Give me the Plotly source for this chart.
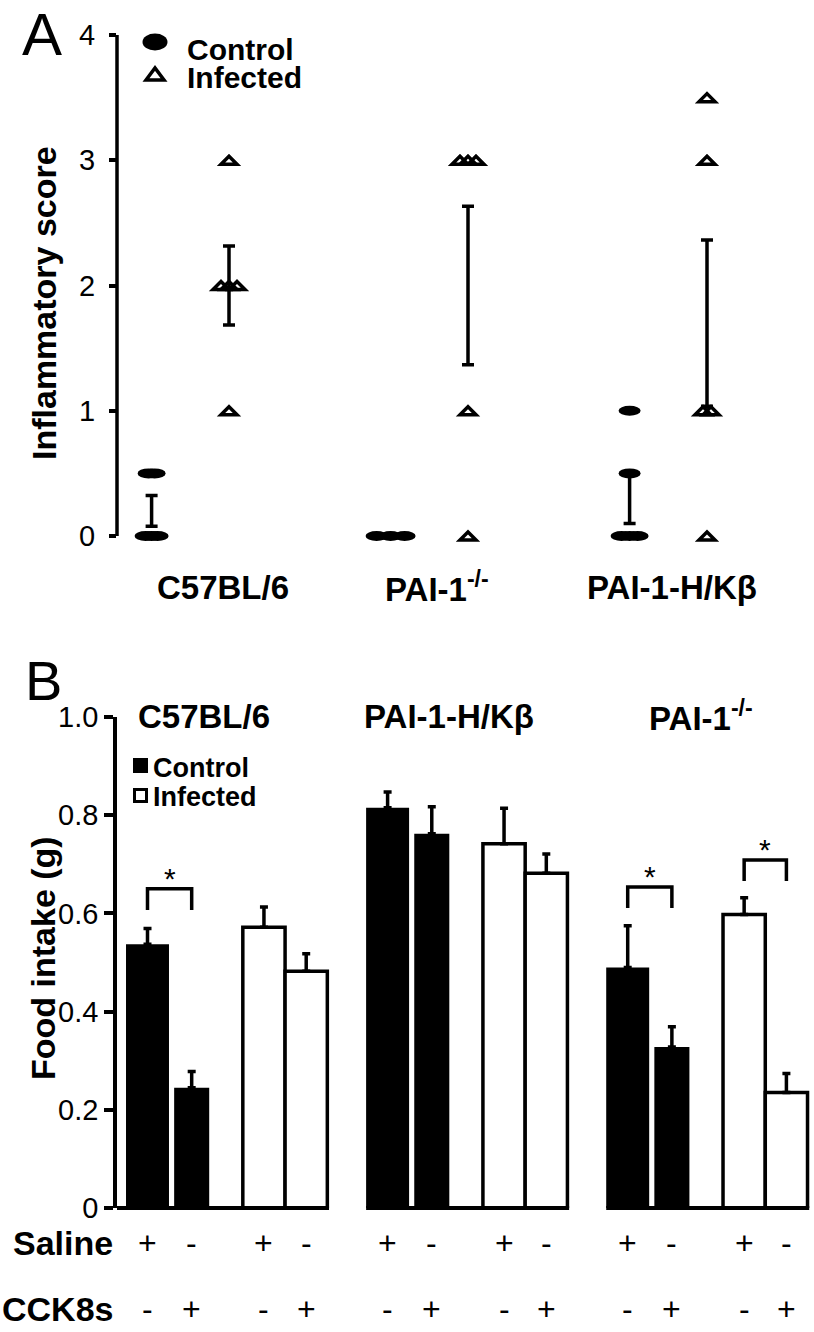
import numpy as np
import plotly.graph_objects as go

W, H = 814, 1332
FONT = "Liberation Sans, Arial, sans-serif"

# ---------------- Panel A data ----------------
strains_A = ["C57BL/6", "PAI-1<sup>-/-</sup>", "PAI-1-H/Kβ"]
control_scores = [[0, 0, 0, 0.5, 0.5], [0, 0, 0], [1, 0.5, 0, 0, 0]]
infected_scores = [[3, 2, 2, 2, 1], [3, 3, 3, 1, 0], [3.5, 3, 1, 1, 0]]
score_ticks = [0, 1, 2, 3, 4]
legend_labels = ["Control", "Infected"]

# ---------------- Panel B data ----------------
strains_B = ["C57BL/6", "PAI-1-H/Kβ", "PAI-1<sup>-/-</sup>"]
treatment = ["Control", "Control", "Infected", "Infected"]
saline = ["+", "-", "+", "-"]
cck8s = ["-", "+", "-", "+"]
intake_mean = [[0.537, 0.245, 0.572, 0.482],
               [0.815, 0.762, 0.742, 0.682],
               [0.490, 0.328, 0.598, 0.235]]
intake_sem = [[0.032, 0.033, 0.041, 0.036],
              [0.032, 0.055, 0.072, 0.039],
              [0.085, 0.041, 0.034, 0.039]]
intake_ticks = [0, 0.2, 0.4, 0.6, 0.8, 1.0]
intake_ticktext = ["0", "0.2", "0.4", "0.6", "0.8", "1.0"]
# (strain index, bar a, bar b, bracket height)
significance = [(0, 0, 1, 0.650), (2, 0, 1, 0.654), (2, 2, 3, 0.709)]


# ---------------- layout helpers ----------------
def fx(p):
    return p / W


def fy(p):
    return 1 - p / H


# Panel A geometry (pixels)
A_Y0, A_Y4 = 536, 35
A_UNIT = (A_Y0 - A_Y4) / 4.0
A_YMIN = -0.25
A_BOTTOM = A_Y0 - A_YMIN * A_UNIT
A_LEFT = 117
A_G0, A_GSTEP = 190.3, 239.0
A_PAIR = 38.7 / A_GSTEP
A_XRANGE = [(A_LEFT - A_G0) / A_GSTEP, (W - A_G0) / A_GSTEP]
ELL_STEP = [6, 14, 8]
TRI_STEP = 8
A_LABEL_SHIFT = [33, 8, 4]

# Panel B geometry (pixels)
B_Y0, B_Y1 = 1208, 717
B_LEFT = 117
B_G0, B_GSTEP = 147.5, 240.1
B_XRANGE = [(B_LEFT - B_G0) / B_GSTEP, (W - B_G0) / B_GSTEP]
BAR_OFF = [0.0, 0.184, 0.485, 0.661]
BAR_W = [0.179, 0.146, 0.176, 0.176]
BAR_COLOR = ["black", "black", "white", "white"]
BAR_LW = [0, 0, 3.5, 3.5]
B_TITLE_SHIFT = [-23, -18, -6]
LEG_LEN = 0.043


def spread(vals, step):
    totals = {v: vals.count(v) for v in vals}
    seen = {}
    offs = []
    for v in vals:
        k = seen.get(v, 0)
        seen[v] = k + 1
        offs.append((k - (totals[v] - 1) / 2.0) * step)
    return offs


def note(text, x, y, xref="paper", yref="paper", size=30, xanchor="center", yanchor="middle", **kw):
    d = dict(x=x, y=y, xref=xref, yref=yref, text=text, showarrow=False,
             xanchor=xanchor, yanchor=yanchor,
             font=dict(family=FONT, size=size, color="black"))
    d.update(kw)
    return d


fig = go.Figure()
shapes = []
annotations = []

# ---------------- Panel A ----------------
ex, ey, es = [], [], []
for g in range(3):
    xc = g - A_PAIR
    xi = g + A_PAIR
    for v, off in zip(control_scores[g], spread(control_scores[g], ELL_STEP[g])):
        shapes.append(dict(type="circle", xref="x", yref="y", xsizemode="pixel", ysizemode="pixel",
                           xanchor=xc, yanchor=v, x0=off - 11, x1=off + 11, y0=-5, y1=5,
                           fillcolor="black", line=dict(width=0)))
    for v, off in zip(infected_scores[g], spread(infected_scores[g], TRI_STEP)):
        shapes.append(dict(type="path", xref="x", yref="y", xsizemode="pixel", ysizemode="pixel",
                           xanchor=xi, yanchor=v,
                           path=f"M{off-8},-4 L{off},4 L{off+8},-4 Z",
                           fillcolor="rgba(0,0,0,0)", line=dict(color="black", width=3.5)))
    for vals, xx in ((control_scores[g], xc), (infected_scores[g], xi)):
        arr = np.array(vals, dtype=float)
        ex.append(xx)
        ey.append(arr.mean())
        es.append(arr.std(ddof=1) / np.sqrt(len(arr)))

fig.add_trace(go.Scatter(x=ex, y=ey, mode="markers", marker=dict(size=2, opacity=0),
                         error_y=dict(type="data", array=es, color="black", thickness=3.5, width=6),
                         showlegend=False, hoverinfo="skip", xaxis="x", yaxis="y"))

# y axis line of panel A (0 to 4)
shapes.append(dict(type="line", xref="x domain", yref="y", x0=0, x1=0,
                   y0=score_ticks[0], y1=score_ticks[-1], line=dict(color="black", width=3.5)))

for g, name in enumerate(strains_A):
    annotations.append(note(f"<b>{name}</b>", g, fy(587), xref="x", size=33, xshift=A_LABEL_SHIFT[g]))

annotations.append(note("<b>Inflammatory score</b>", fx(44), fy(303), size=34, textangle=-90))
annotations.append(note("A", fx(42), fy(35), size=60))

# legend A
shapes.append(dict(type="circle", xref="paper", yref="paper", xsizemode="pixel", ysizemode="pixel",
                   xanchor=fx(155), yanchor=fy(42), x0=-12.5, x1=12.5, y0=-8.5, y1=8.5,
                   fillcolor="black", line=dict(width=0)))
shapes.append(dict(type="path", xref="paper", yref="paper", xsizemode="pixel", ysizemode="pixel",
                   xanchor=fx(155), yanchor=fy(74), path="M-9,-6 L0,6 L9,-6 Z",
                   fillcolor="rgba(0,0,0,0)", line=dict(color="black", width=3.5)))
for lab, ypx in zip(legend_labels, [49, 78]):
    annotations.append(note(f"<b>{lab}</b>", fx(185), fy(ypx), size=30, xanchor="left"))

# ---------------- Panel B ----------------
bx, by, bs, bw, bc, bl = [], [], [], [], [], []
for g in range(3):
    for k in range(4):
        bx.append(g + BAR_OFF[k])
        by.append(intake_mean[g][k])
        bs.append(intake_sem[g][k])
        bw.append(BAR_W[k])
        bc.append(BAR_COLOR[k])
        bl.append(BAR_LW[k])

fig.add_trace(go.Bar(x=bx, y=by, width=bw,
                     marker=dict(color=bc, line=dict(color="black", width=bl)),
                     error_y=dict(type="data", array=bs, arrayminus=[0] * len(bs), symmetric=False,
                                  color="black", thickness=3.5, width=4),
                     showlegend=False, hoverinfo="skip", xaxis="x2", yaxis="y2"))

# broken baselines for each strain group
for g in range(3):
    left = B_XRANGE[0] if g == 0 else g + BAR_OFF[0] - BAR_W[0] / 2
    right = g + BAR_OFF[3] + BAR_W[3] / 2 + 0.007
    shapes.append(dict(type="line", xref="x2", yref="y2 domain", x0=left, x1=right, y0=0, y1=0,
                       line=dict(color="black", width=4)))

# significance brackets
for g, a, b, h in significance:
    xa, xb = g + BAR_OFF[a], g + BAR_OFF[b]
    fig.add_trace(go.Scatter(x=[xa, xa, xb, xb], y=[h - LEG_LEN, h, h, h - LEG_LEN], mode="lines",
                             line=dict(color="black", width=3.5), showlegend=False, hoverinfo="skip",
                             xaxis="x2", yaxis="y2"))
    annotations.append(note("*", (xa + xb) / 2, h, xref="x2", yref="y2", size=30, yshift=10))

# strain titles
for g, name in enumerate(strains_B):
    annotations.append(note(f"<b>{name}</b>", g + (BAR_OFF[0] + BAR_OFF[3]) / 2, fy(716), xref="x2",
                            size=33, xshift=B_TITLE_SHIFT[g]))

# saline / CCK8s rows
for g in range(3):
    for k in range(4):
        annotations.append(note(saline[k], g + BAR_OFF[k], fy(1243), xref="x2", size=32))
        annotations.append(note(cck8s[k], g + BAR_OFF[k], fy(1309), xref="x2", size=32))
for lab, ypx in (("Saline", 1243), ("CCK8s", 1309)):
    annotations.append(note(f"<b>{lab}</b>", fx(115), fy(ypx), size=34, xanchor="right"))

annotations.append(note("<b>Food intake (g)</b>", fx(43), fy(958), size=34, textangle=-90))
annotations.append(note("B", fx(43), fy(680), size=56))

# legend B
shapes.append(dict(type="rect", xref="paper", yref="paper", x0=fx(133), x1=fx(148), y0=fy(773), y1=fy(758),
                   fillcolor="black", line=dict(width=0)))
shapes.append(dict(type="rect", xref="paper", yref="paper", x0=fx(134.5), x1=fx(146.5), y0=fy(801.5),
                   y1=fy(789.5), fillcolor="white", line=dict(color="black", width=3)))
for lab, ypx in zip(legend_labels, [768, 797]):
    annotations.append(note(f"<b>{lab}</b>", fx(151), fy(ypx), size=27, xanchor="left"))

fig.update_layout(
    width=W, height=H,
    margin=dict(l=0, r=0, t=0, b=0, pad=0, autoexpand=False),
    paper_bgcolor="white", plot_bgcolor="rgba(0,0,0,0)",
    font=dict(family=FONT, color="black"),
    showlegend=False,
    barmode="overlay",
    xaxis=dict(domain=[fx(A_LEFT), 1], range=A_XRANGE, visible=False, anchor="y", automargin=False),
    yaxis=dict(domain=[fy(A_BOTTOM), fy(A_Y4)], range=[A_YMIN, score_ticks[-1]], anchor="x",
               tickmode="array", tickvals=score_ticks, ticktext=[str(t) for t in score_ticks],
               ticks="outside", ticklen=7, tickwidth=3.5, tickcolor="black",
               showline=False, showgrid=False, zeroline=False, automargin=False,
               tickfont=dict(family=FONT, size=29, color="black"), ticklabelstandoff=8),
    xaxis2=dict(domain=[fx(B_LEFT), 1], range=B_XRANGE, visible=False, anchor="y2", automargin=False),
    yaxis2=dict(domain=[fy(B_Y0), fy(B_Y1)], range=[0, 1], anchor="x2",
                tickmode="array", tickvals=intake_ticks, ticktext=intake_ticktext,
                ticks="outside", ticklen=9, tickwidth=3.5, tickcolor="black",
                showline=True, linewidth=3.5, linecolor="black", showgrid=False, zeroline=False,
                automargin=False, tickfont=dict(family=FONT, size=29, color="black")),
    shapes=shapes,
    annotations=annotations,
)

fig.write_html("out.html", config={"displayModeBar": False},
               post_script="document.body.style.margin='0px';")
